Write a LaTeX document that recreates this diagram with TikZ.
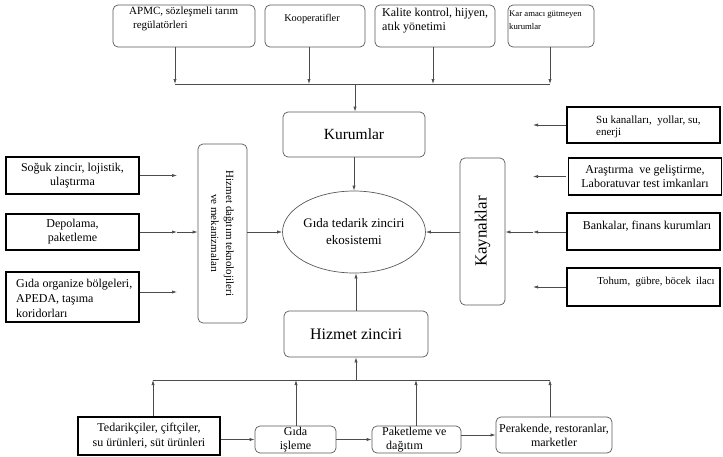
\documentclass[tikz,border=0pt]{standalone}
\usepackage{fontspec}
\setmainfont{Liberation Serif}
\usetikzlibrary{arrows.meta,shapes.geometric}
\begin{document}
\begin{tikzpicture}[x=1pt,y=-1pt,
 rbox/.style={draw=gray!70!black, line width=0.7pt, rounded corners=5pt, fill=white, inner sep=0pt},
 tbox/.style={draw=black, line width=1.6pt, fill=white, inner sep=0pt},
 arr/.style={draw=gray!60!black, line width=0.7pt, -{Latex[length=5pt,width=3.2pt]}},
 ln/.style={draw=gray!60!black, line width=0.7pt},
 txt/.style={font=\fontsize{12}{14}\selectfont, align=center, inner sep=0pt},
 stxt/.style={font=\fontsize{8.7}{13}\selectfont, align=left, inner sep=0pt},
 btxt/.style={font=\fontsize{16}{18}\selectfont, align=center, inner sep=0pt}
]
\useasboundingbox (0,0) rectangle (723,456);

% top boxes
\node[rbox, minimum width=142, minimum height=42] (apmc) at (184,26) {};
\node[rbox, minimum width=100, minimum height=42] (koop) at (315,26) {};
\node[rbox, minimum width=120, minimum height=42] (kal) at (435,26) {};
\node[rbox, minimum width=86, minimum height=42] (kar) at (551,26) {};
\node[txt, font=\fontsize{11}{14}\selectfont, align=left, anchor=north west] (apmct) at (129,7) {APMC, sözleşmeli tarım\\\hspace{4pt}regülatörleri};
\node[stxt, font=\fontsize{10.3}{12}\selectfont] (koopt) at (312,19) {Kooperatifler};
\node[txt, align=left, anchor=north west] (kalt) at (382,8) {Kalite kontrol, hijyen,\\atık yönetimi};
\node[stxt, anchor=north west] (kart) at (509,11) {Kar amacı gütmeyen\\kurumlar};

\coordinate (t1) at (175,84);
\coordinate (t2) at (309,84);
\coordinate (t3) at (433,84);
\coordinate (t4) at (550,84);
\coordinate (tm) at (355,84);
\draw[arr] (apmc.south -| t1) -- (t1);
\draw[arr] (koop.south -| t2) -- (t2);
\draw[arr] (kal.south -| t3) -- (t3);
\draw[arr] (kar.south -| t4) -- (t4);
\draw[ln] (t1) -- (t4);

% center
\node[rbox, minimum width=142, minimum height=45, font=\fontsize{15.5}{17}\selectfont] (kur) at (354,134.5) {Kurumlar};
\node[ellipse, draw=gray!70!black, line width=0.7pt, minimum width=136, minimum height=82, txt, font=\fontsize{13}{17}\selectfont] (eco) at (354,232) {Gıda tedarik zinciri\\ekosistemi};
\node[rbox, minimum width=144, minimum height=46, btxt] (hz) at (356,334) {Hizmet zinciri};
\node[rbox, minimum width=45, minimum height=147] (kay) at (482.5,231.5) {};
\node[btxt, font=\fontsize{17}{19}\selectfont, rotate=90] (kayt) at (kay) {Kaynaklar};
\node[rbox, minimum width=49, minimum height=179] (hd) at (222.5,233.5) {};
\node[txt, font=\fontsize{11}{15}\selectfont, rotate=-90] (hdt) at (hd) {Hizmet dağıtım teknolojileri\\ve mekanizmaları};

\draw[arr] (tm) -- (tm |- kur.north);
\draw[arr] (kur) -- (eco);
\draw[arr] (hz.north) -- (hz.north |- eco.south);
\draw[arr] (kay.west |- eco.east) -- (eco.east);
\draw[arr] (hd.east |- eco.west) -- (eco.west);

% left boxes
\node[tbox, minimum width=133, minimum height=37, txt] (sog) at (72.5,175.5) {Soğuk zincir, lojistik,\\ulaştırma};
\node[tbox, minimum width=133, minimum height=36, txt] (depo) at (72.5,232) {Depolama,\\paketleme};
\node[tbox, minimum width=133, minimum height=50] (gor) at (72.5,297) {};
\node[txt, align=left, anchor=west, font=\fontsize{12}{15}\selectfont] (gort) at (16,298) {Gıda organize bölgeleri,\\APEDA, taşıma\\koridorları};
\coordinate (l1) at (177,175.5);
\coordinate (l2) at (177,232);
\coordinate (l3) at (177,292);
\draw[arr] (sog.east) -- (l1);
\draw[arr] (depo.east) -- (l2);
\draw[arr] (l2) -- (hd.west |- l2);
\draw[arr] (gor.east |- l3) -- (l3);

% right boxes
\node[tbox, minimum width=153, minimum height=36] (su) at (643.5,125) {};
\node[stxt, font=\fontsize{11}{12}\selectfont, anchor=west] (sut) at (596,127) {Su kanalları,\ \ yollar,\ su,\\enerji};
\node[tbox, minimum width=153, minimum height=37, txt] (ar) at (645,176.5) {Araştırma\ \ ve geliştirme,\\Laboratuvar test imkanları};
\node[tbox, minimum width=153, minimum height=37] (bank) at (643.5,231.5) {};
\node[txt] (bankt) at (647,226) {Bankalar, finans kurumları};
\node[tbox, minimum width=153, minimum height=38] (toh) at (643.5,287) {};
\node[txt, font=\fontsize{10.7}{12}\selectfont] (toht) at (656,282) {Tohum,\ \ gübre,\ böcek\ \ ilacı};
\coordinate (r1) at (533,125);
\coordinate (r2) at (533,176.5);
\coordinate (r3) at (533,232);
\coordinate (r4) at (533,287);
\draw[arr] (su.west) -- (r1);
\draw[arr] (ar.west -| su.west) -- (r2);
\draw[arr] (bank.west |- r3) -- (r3);
\draw[arr] (r3) -- (kay.east |- r3);
\draw[arr] (toh.west) -- (r4);

% bottom boxes
\node[tbox, minimum width=142, minimum height=38, txt, font=\fontsize{12}{15}\selectfont] (ted) at (149,436) {Tedarikçiler, çiftçiler,\\su ürünleri, süt ürünleri};
\node[rbox, minimum width=81, minimum height=27, txt] (gi) at (295.5,439.5) {Gıda\\işleme};
\node[rbox, minimum width=89, minimum height=27] (pak) at (416.5,439.5) {};
\node[txt, align=left, anchor=west] (pakt) at (382,439.5) {Paketleme ve\\\hspace{4pt}dağıtım};
\node[rbox, minimum width=116, minimum height=36, txt] (per) at (554,435) {Perakende, restoranlar,\\marketler};

\draw[arr] (ted.east |- gi.west) -- (gi.west);
\draw[arr] (gi) -- (pak);
\draw[arr] (pak.east |- per.west) -- (per.west);

\coordinate (b1) at (153,380);
\coordinate (b2) at (296,380);
\coordinate (b3) at (416,380);
\coordinate (b4) at (550,380);
\coordinate (bm) at (356,380);
\draw[arr] (ted.north -| b1) -- (b1);
\draw[arr] (gi.north -| b2) -- (b2);
\draw[arr] (pak.north -| b3) -- (b3);
\draw[arr] (per.north -| b4) -- (b4);
\draw[ln] (b1) -- (b4);
\draw[arr] (bm) -- (bm |- hz.south);
\end{tikzpicture}
\end{document}
